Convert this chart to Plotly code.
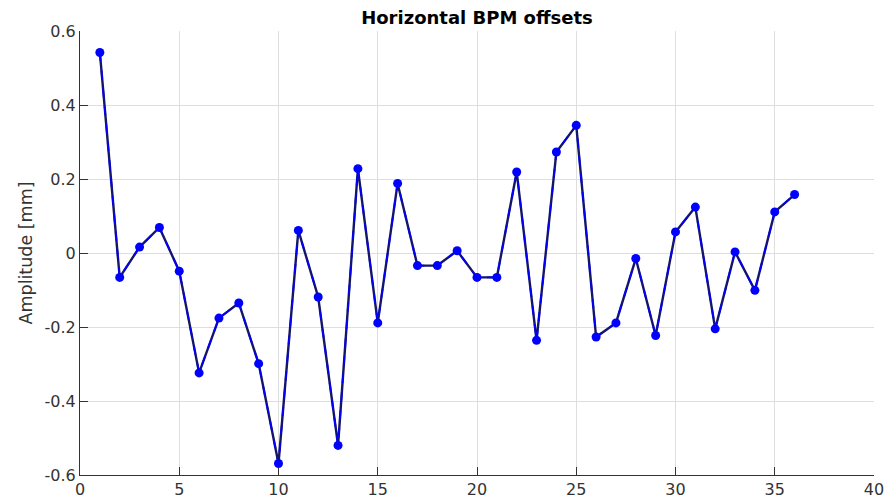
import plotly.graph_objects as go

bpm_index = list(range(1, 37))
offsets_mm = [0.542, -0.066, 0.016, 0.069, -0.049, -0.324, -0.176, -0.135, -0.299, -0.569,
              0.061, -0.119, -0.520, 0.228, -0.189, 0.188, -0.034, -0.034, 0.006, -0.066,
              -0.066, 0.219, -0.236, 0.273, 0.345, -0.227, -0.189, -0.015, -0.223, 0.057,
              0.124, -0.205, 0.003, -0.101, 0.111, 0.158]

x_ticks = [0, 5, 10, 15, 20, 25, 30, 35, 40]
y_ticks = [-0.6, -0.4, -0.2, 0, 0.2, 0.4, 0.6]
y_tick_text = ["-0.6", "-0.4", "-0.2", "0", "0.2", "0.4", "0.6"]

# page has an 8px body margin; figure size/margins compensate for it
W, H = 885, 491

fig = go.Figure()
fig.add_trace(go.Scatter(x=bpm_index, y=offsets_mm, mode="lines",
                         line=dict(color="#15156a", width=2.4), showlegend=False, hoverinfo="skip"))
fig.add_trace(go.Scatter(x=bpm_index, y=offsets_mm, mode="lines+markers",
                         line=dict(color="#0000ff", width=1.8, dash="dash"),
                         marker=dict(color="#0000ff", size=9, symbol="circle"),
                         showlegend=False))

axis_font = dict(family="DejaVu Sans, sans-serif", size=16, color="#333333")
fig.update_layout(
    width=W, height=H,
    margin=dict(l=72, r=19, t=23, b=24, autoexpand=False),
    paper_bgcolor="white", plot_bgcolor="white",
    title=dict(text="<b>Horizontal BPM offsets</b>", x=469 / W, xanchor="center",
               y=1 - 10 / H, yref="container", yanchor="middle",
               font=dict(family="DejaVu Sans, sans-serif", size=18, color="#000000")),
    font=axis_font,
)
fig.update_xaxes(range=[0, 40], tickvals=x_ticks, showgrid=True, gridcolor="#dedede", gridwidth=1,
                 showline=True, linecolor="#333333", linewidth=1, ticks="inside", ticklen=8,
                 tickcolor="#333333", zeroline=False, tickfont=axis_font, automargin=False)
fig.update_yaxes(range=[-0.6, 0.6], tickvals=y_ticks, ticktext=y_tick_text, showgrid=True,
                 gridcolor="#dedede", gridwidth=1, showline=True, linecolor="#333333", linewidth=1,
                 ticks="inside", ticklen=8, tickcolor="#333333", zeroline=False, tickfont=axis_font,
                 automargin=False,
                 title=dict(text="Amplitude [mm]", standoff=7,
                            font=dict(family="DejaVu Sans, sans-serif", size=17.5, color="#333333")))

fig.write_html("out.html")
